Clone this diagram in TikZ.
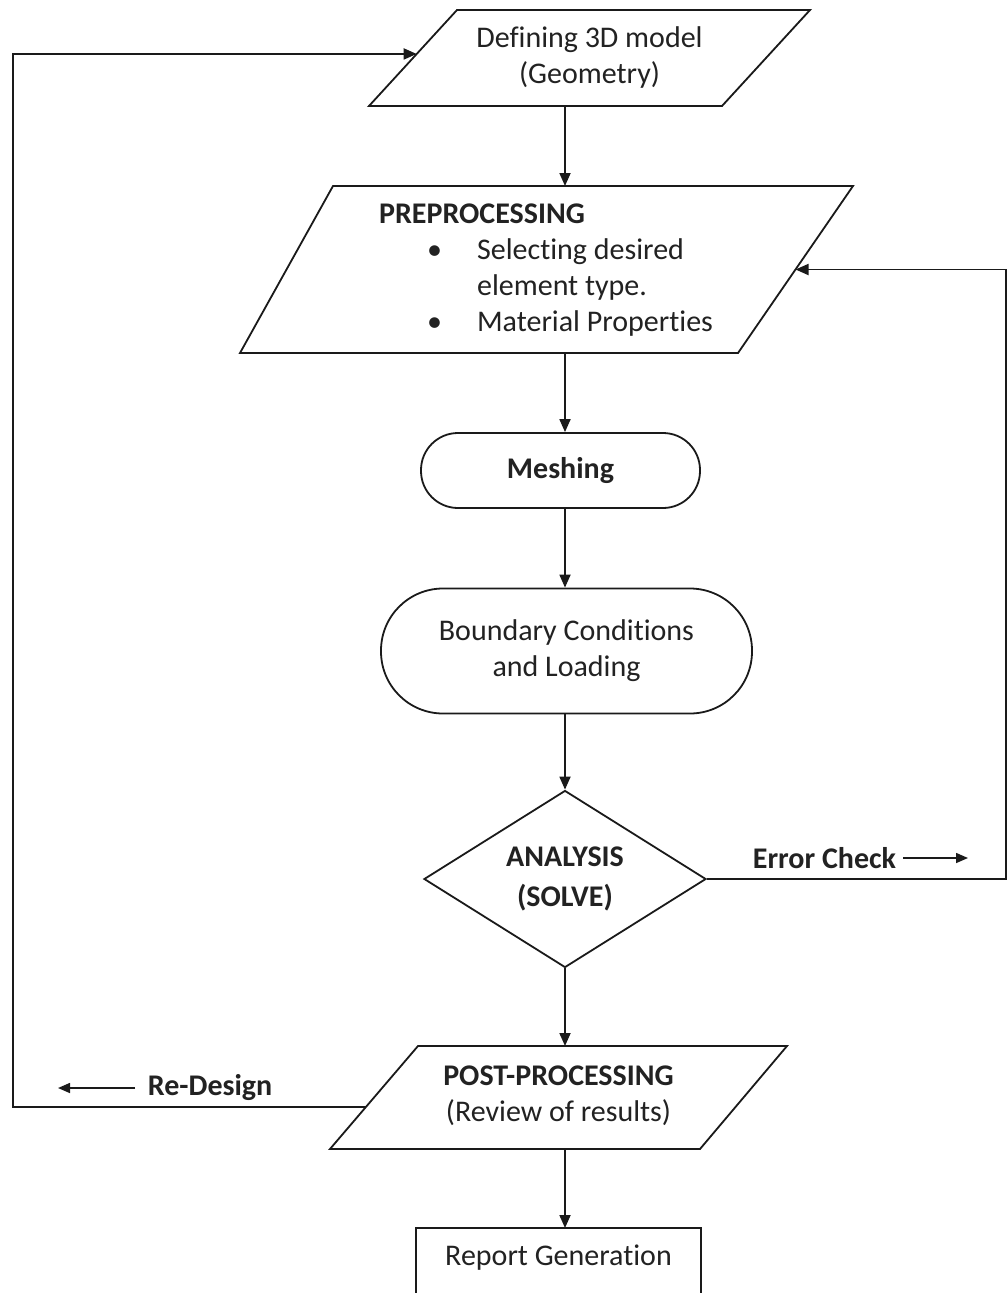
\documentclass[tikz,border=0pt]{standalone}
\usepackage{fontspec}
\setmainfont{Carlito}[Ligatures={NoCommon,NoContextual}]
\usetikzlibrary{shapes.geometric,arrows.meta,calc}
\definecolor{linec}{HTML}{1A1A1A}
\definecolor{txt}{HTML}{222222}
\begin{document}
\begin{tikzpicture}[x=1pt,y=-1pt,line width=1.8pt,
  every node/.style={font=\fontsize{30}{36}\selectfont, text=txt},
  ptext/.style={inner sep=0pt, align=center},
  pshape/.style={draw=linec, line join=miter},
  rbox/.style={draw=linec, align=center, inner sep=0pt},
  arr/.style={draw=linec, -{Triangle[length=13pt,width=11pt]}},
  sarr/.style={draw=linec, line width=1.5pt, -{Triangle[length=12pt,width=10pt]}},
  lbl/.style={font=\fontsize{30}{36}\selectfont\bfseries, inner sep=0pt}]
\useasboundingbox (0,0) rectangle (1008,1293);
\clip (0,0) rectangle (1008,1293);
\fill[white] (0,0) rectangle (1008,1293);

% Defining 3D model (parallelogram)
\coordinate (geoTL) at (457,10);  \coordinate (geoTR) at (810,10);
\coordinate (geoBR) at (722,106); \coordinate (geoBL) at (369,106);
\draw[pshape] (geoTL) -- (geoTR) -- (geoBR) -- (geoBL) -- cycle;
\node[ptext] (geo) at (589.5,58) {Defining 3D model\\(Geometry)};

% Preprocessing
\coordinate (preTL) at (333,186);  \coordinate (preTR) at (853,186);
\coordinate (preBR) at (738,353);  \coordinate (preBL) at (240,353);
\draw[pshape] (preTL) -- (preTR) -- (preBR) -- (preBL) -- cycle;
\node[ptext, align=left] (pre) at (546,270.5) {\textbf{PREPROCESSING}\\\hspace*{48pt}\makebox[50pt][l]{\textbullet}Selecting desired\\\hspace*{98pt}element type.\\\hspace*{48pt}\makebox[50pt][l]{\textbullet}Material Properties};

\node[rbox, rounded corners=37pt, minimum width=279pt, minimum height=75pt] (mesh) at (560.5,470.5) {\textbf{Meshing}};

\node[rbox, rounded corners=62pt, minimum width=371pt, minimum height=125pt] (bc) at (566.5,651) {Boundary Conditions\\and Loading};

\node[draw=linec, diamond, aspect=1.6, inner sep=0pt, minimum width=282pt, minimum height=177pt, align=center] (ana) at (565,879) {\textbf{ANALYSIS}\\[4pt]\textbf{(SOLVE)}};

% Post-processing
\coordinate (postTL) at (418,1046); \coordinate (postTR) at (787,1046);
\coordinate (postBR) at (700,1149); \coordinate (postBL) at (330,1149);
\draw[pshape] (postTL) -- (postTR) -- (postBR) -- (postBL) -- cycle;
\node[ptext] (post) at (558.5,1096) {\textbf{POST-PROCESSING}\\(Review of results)};

\node[minimum width=283pt, minimum height=58pt, anchor=north, inner sep=0pt] (rep) at (558.5,1228) {Report Generation};
\draw[linec] ($(rep.north west)+(0,80)$) -- (rep.north west) -- (rep.north east) -- ++(0,80);

\coordinate (ax) at (565,0);
\draw[arr] (geoBL -| ax) -- (preTL -| ax);
\draw[arr] (preBL -| ax) -- (mesh.north -| ax);
\draw[arr] (mesh.south -| ax) -- (bc.north -| ax);
\draw[arr] (bc.south -| ax) -- (ana.north);
\draw[arr] (ana.south) -- (postTL -| ax);
\draw[arr] (postBL -| ax) -- (rep.north -| ax);

% error check loop
\coordinate (ecR) at (1006,0);
\coordinate (preR) at ($(preBR)!0.5!(preTR)$);
\draw[arr] (ana.east) -- (ana.east -| ecR) -- (preR -| ecR) -- (preR);
\node[lbl, anchor=west] (ec) at (752,858) {Error Check};
\coordinate (ecA) at (903,858);
\coordinate (ecB) at (968,858);
\draw[sarr] (ecA) -- (ecB);

% redesign loop
\coordinate (lx) at (13,0);
\coordinate (postL) at ($(postBL)!0.408!(postTL)$);
\coordinate (geoL) at ($(geoBL)!0.542!(geoTL)$);
\draw[arr] (postL) -- (postL -| lx) -- (geoL -| lx) -- (geoL);
\node[lbl, anchor=west] (rd) at (147,1088) {Re-Design};
\coordinate (rdA) at (135,1088);
\coordinate (rdB) at (58,1088);
\draw[sarr] (rdA) -- (rdB);
\end{tikzpicture}
\end{document}
